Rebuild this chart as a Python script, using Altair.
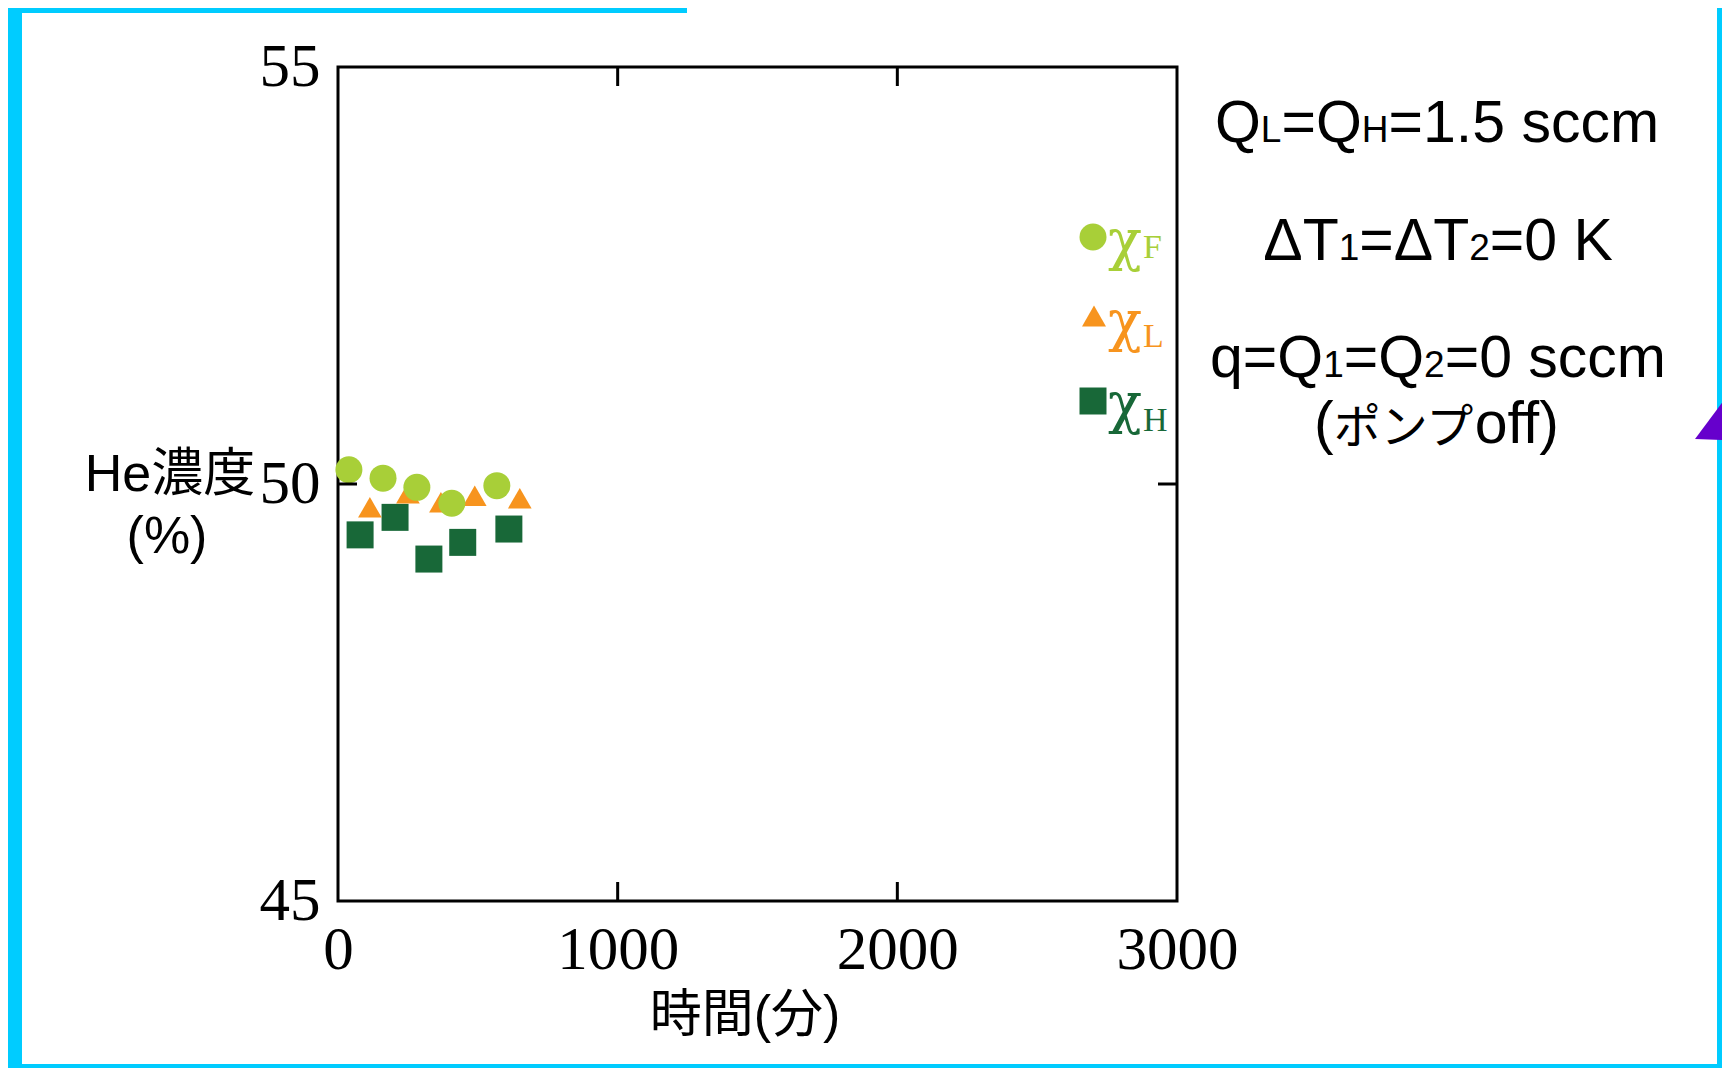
import altair as alt
import pandas as pd

# ---------------- data ----------------
time_F = [39, 161, 282, 407, 568]
he_F = [50.17, 50.07, 49.96, 49.77, 49.98]
time_L = [114, 250, 368, 489, 650]
he_L = [49.72, 49.89, 49.78, 49.86, 49.83]
time_H = [79, 204, 325, 446, 611]
he_H = [49.39, 49.60, 49.10, 49.30, 49.46]

x_label_values = [0, 1000, 2000, 3000]
y_label_values = [45, 50, 55]
x_inner_ticks = [1000, 2000]
y_inner_ticks = [50]

series_names = ["F", "L", "H"]
series_colors = ["#A8CF38", "#F7941E", "#186838"]
series_shapes = ["circle", "triangle-up", "square"]

x_title = "時間(分)"
y_title_lines = ["He濃度", "(%)"]
cond_lines = [
    [("Q", "m"), ("L", "s"), ("=Q", "m"), ("H", "s"), ("=1.5 sccm", "m")],
    [("ΔT", "m"), ("1", "s"), ("=ΔT", "m"), ("2", "s"), ("=0 K", "m")],
    [("q=Q", "m"), ("1", "s"), ("=Q", "m"), ("2", "s"), ("=0 sccm", "m")],
    [("(", "m"), ("ポンプ", "k"), ("off)", "m")],
]

# ---------------- layout ----------------
W, H = 839, 834          # plot area
OX, OY = 338, 67         # page position of the plot origin
BOTTOM = 1068
PAD = {"left": OX - 8, "top": OY - 8, "right": 1722 - (OX + W), "bottom": BOTTOM - (OY + H)}

SANS = "Liberation Sans, Noto Sans CJK JP"
SERIF = "Liberation Serif"
CHI_FONT = "DejaVu Serif"
WID = {'Q': .778, 'L': .556, 'H': .722, '=': .584, '1': .556, '.': .278, '5': .556,
       ' ': .278, 's': .5, 'c': .5, 'm': .833, 'Δ': .668, 'T': .611, '2': .556,
       '0': .556, 'K': .667, 'q': .556, '(': .333, ')': .333, 'o': .556, 'f': .278,
       'e': .556, '%': .889}


def wid(t, fs):
    return sum(WID.get(ch, 1.0) for ch in t) * fs


text_rows = []


def add_line(cx, base, segs, color="black"):
    total = sum(wid(t, fs) for t, fs in segs)
    x = cx - total / 2
    for t, fs in segs:
        text_rows.append({"px": x - OX, "py": base - OY, "text": t, "size": fs, "color": color})
        x += wid(t, fs)


SIZES = {"m": 59, "s": 37, "k": 47}
for (cx, base), segs in zip([(1437, 142), (1438, 260), (1438, 377), (1437, 443)], cond_lines):
    add_line(cx, base, [(t, SIZES[k]) for t, k in segs])

add_line(170, 491, [(y_title_lines[0], 52)])
add_line(167, 553, [(y_title_lines[1], 52)])
add_line(745, 1032, [(x_title, 52)])

text_df = pd.DataFrame(text_rows)

# legend (pixel layout)
leg_sym_pos = [(1093, 237), (1094, 316), (1093, 401)]
leg_chi_base = [259, 340, 422]
leg_sub_base = [258, 347, 431]
leg_sym_sizes = [729, 576, 729]

chi_rows, sub_rows = [], []
for i, n in enumerate(series_names):
    chi_rows.append({"px": 1108 - OX, "py": leg_chi_base[i] - OY, "text": "χ", "size": 56,
                     "color": series_colors[i]})
    sub_rows.append({"px": 1143 - OX, "py": leg_sub_base[i] - OY, "text": n, "size": 34,
                     "color": series_colors[i]})
chi_df = pd.DataFrame(chi_rows)
sub_df = pd.DataFrame(sub_rows)

# decoration (slide frame)
frame_df = pd.DataFrame([
    {"x": 8 - OX, "x2": 687 - OX, "y": 8 - OY, "y2": 13 - OY},
    {"x": 8 - OX, "x2": 22 - OX, "y": 8 - OY, "y2": BOTTOM - OY},
    {"x": 1717 - OX, "x2": 1722 - OX, "y": 8 - OY, "y2": BOTTOM - OY},
    {"x": 8 - OX, "x2": 1722 - OX, "y": BOTTOM - 4 - OY, "y2": BOTTOM - OY},
])

# ---------------- scales / axes ----------------
xscale = alt.Scale(domain=[0, 3000], nice=False, zero=False)
yscale = alt.Scale(domain=[45, 55], nice=False, zero=False)
xaxis = alt.Axis(values=x_label_values, title=None, domain=False, ticks=False, tickSize=0,
                 grid=False, labelFont=SERIF, labelFontSize=61, labelColor="black",
                 labelPadding=19, labelFlush=False, labelOverlap=False, format="d")
yaxis = alt.Axis(values=y_label_values, title=None, domain=False, ticks=False, tickSize=0,
                 grid=False, labelFont=SERIF, labelFontSize=61, labelColor="black",
                 labelPadding=18, labelFlush=False, labelOverlap=False, format="d")


def X(field):
    return alt.X(field, type="quantitative", scale=xscale, axis=xaxis)


def Y(field):
    return alt.Y(field, type="quantitative", scale=yscale, axis=yaxis)


def PX(field):
    return alt.X(field, type="quantitative", scale=None, axis=None)


def PY(field):
    return alt.Y(field, type="quantitative", scale=None, axis=None)


layers = []

frame = alt.Chart(frame_df).mark_rect(color="#00CCFF").encode(
    x=PX("x"), x2="x2", y=PY("y"), y2="y2")
layers.append(frame)

tri = alt.Chart(pd.DataFrame({"px": [1717 - OX], "py": [410 - OY]})).mark_point(
    shape="M -22 29 L 28 -38 L 28 31 Z", size=4, filled=True, opacity=1, color="#6600CC"
).encode(x=PX("px"), y=PY("py"))
layers.append(tri)

series = {
    "F": (time_F, he_F),
    "L": (time_L, he_L),
    "H": (time_H, he_H),
}
point_sizes = {"F": 729, "L": 560, "H": 729}
for idx in [2, 1, 0]:
    n = series_names[idx]
    t, v = series[n]
    df = pd.DataFrame({"time": t, "he": v})
    layers.append(alt.Chart(df).mark_point(
        filled=True, opacity=1, shape=series_shapes[idx], size=point_sizes[n],
        color=series_colors[idx], strokeWidth=0
    ).encode(x=X("time"), y=Y("he")))

tx = pd.DataFrame({"t": x_inner_ticks})
ty = pd.DataFrame({"t": y_inner_ticks})
TL = 19
layers.append(alt.Chart(tx).mark_rule(color="black", strokeWidth=3).encode(
    x=X("t"), y=alt.value(H), y2=alt.value(H - TL)))
layers.append(alt.Chart(tx).mark_rule(color="black", strokeWidth=3).encode(
    x=X("t"), y=alt.value(0), y2=alt.value(TL)))
layers.append(alt.Chart(ty).mark_rule(color="black", strokeWidth=3).encode(
    y=Y("t"), x=alt.value(0), x2=alt.value(TL)))
layers.append(alt.Chart(ty).mark_rule(color="black", strokeWidth=3).encode(
    y=Y("t"), x=alt.value(W - TL), x2=alt.value(W)))

# legend symbols
for i in range(3):
    sx, sy = leg_sym_pos[i]
    layers.append(alt.Chart(pd.DataFrame({"px": [sx - OX], "py": [sy - OY]})).mark_point(
        filled=True, opacity=1, shape=series_shapes[i], size=leg_sym_sizes[i],
        color=series_colors[i], strokeWidth=0
    ).encode(x=PX("px"), y=PY("py")))

for df_, font_ in [(chi_df, CHI_FONT), (sub_df, SERIF)]:
    layers.append(alt.Chart(df_).mark_text(
        align="left", baseline="alphabetic", font=font_
    ).encode(x=PX("px"), y=PY("py"), text="text:N",
             color=alt.Color("color:N", scale=None),
             size=alt.Size("size:Q", scale=None)))

layers.append(alt.Chart(text_df).mark_text(
    align="left", baseline="alphabetic", font=SANS
).encode(x=PX("px"), y=PY("py"), text="text:N",
         color=alt.Color("color:N", scale=None),
         size=alt.Size("size:Q", scale=None)))

chart = alt.layer(*layers).properties(
    width=W, height=H,
    autosize=alt.AutoSizeParams(type="none"),
    padding=PAD,
    background="white",
).configure_view(stroke="black", strokeWidth=3)

chart.save("out.html", embed_options={"renderer": "svg", "actions": False})
